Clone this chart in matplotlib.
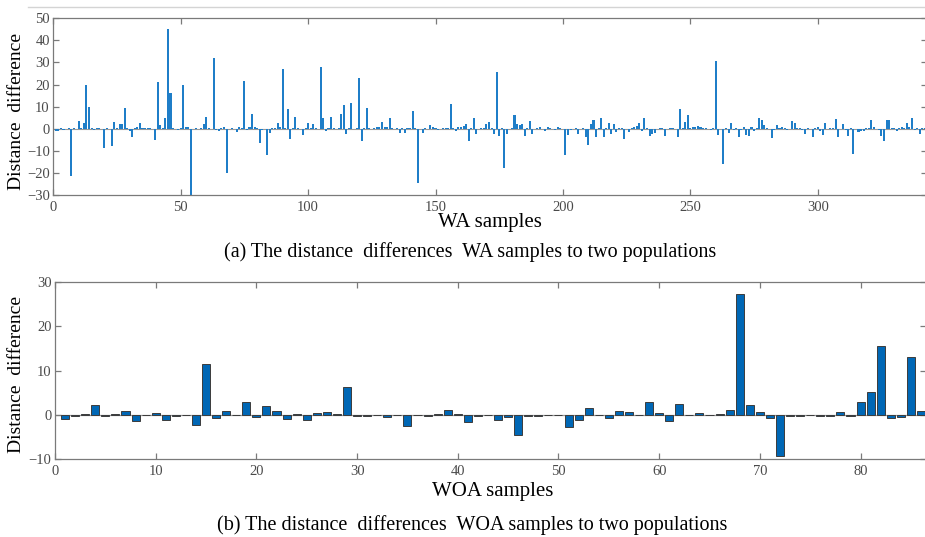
import matplotlib
matplotlib.use("Agg")
import matplotlib.pyplot as plt
from matplotlib.lines import Line2D
import numpy as np

plt.rcParams["font.family"] = ["Liberation Serif", "DejaVu Serif"]

# distance differences of the WA samples (sample 1..343)
wa_diff = [
    -1.2, -1.0, 0.2, -0.7, 0.1, 0.3, -21.3, 0.2, 0.1, 3.6,
    0.3, 2.5, 20.0, 9.8, 0.2, -0.5, 0.3, 0.3, 0.1, -8.6,
    0.2, 0.1, -7.7, 3.0, 0.2, 2.2, 2.2, 9.2, 0.3, -1.0,
    -3.8, 0.3, 1.0, 2.5, 0.2, 0.3, 0.3, 0.2, 0.1, -5.0,
    21.0, 1.5, 0.3, 4.8, 45.2, 16.0, 0.5, 0.1, -0.7, 0.2,
    19.8, 0.7, 0.7, -31.0, 0.1, 0.2, 0.1, 0.4, 2.0, 5.4,
    0.2, 0.1, 32.0, -0.5, -1.0, 0.2, 0.8, -20.0, 0.1, 0.2,
    0.1, -1.5, 0.8, 0.3, 21.8, -0.5, 0.8, 6.6, 0.8, 0.2,
    -6.5, -0.5, 0.1, -12.0, -2.0, 0.2, 0.3, 2.5, 1.0, 27.0,
    0.2, 9.0, -4.7, 0.2, 5.5, 0.5, 0.1, -3.0, 0.2, 2.5,
    0.3, 2.0, 0.2, 0.1, 28.0, 5.0, -1.0, 0.2, 5.5, 0.5,
    0.1, 0.2, 6.5, 10.8, -2.2, 0.2, 11.7, -0.3, 0.2, 23.0,
    -5.7, 0.3, 9.3, 0.5, 0.1, 0.3, 1.0, 1.0, 3.0, 1.0,
    1.0, 4.8, 0.5, 0.1, 0.2, -2.0, 0.2, -2.0, 0.5, 0.3,
    8.0, 0.2, -24.5, 0.1, -2.0, 0.2, 0.1, 1.5, 1.0, 0.2,
    -0.6, 0.1, 0.2, 0.3, 0.2, 11.0, 0.2, -1.0, 0.8, 1.0,
    1.2, 2.0, -5.7, 0.2, 4.8, -2.5, 0.1, 0.2, 0.5, 2.3,
    3.0, 0.2, -2.5, 25.9, -3.5, 0.2, -17.7, -2.5, 0.1, 0.2,
    6.2, 2.0, 1.5, 2.0, -3.5, 0.2, 3.3, -2.5, 0.1, 0.5,
    0.7, 0.1, -1.2, 1.0, 0.2, 0.1, -0.5, 0.7, 0.2, 0.1,
    -11.7, -3.0, -0.5, 0.1, 0.2, -2.5, -0.3, 0.5, -3.8, -7.2,
    2.0, 4.0, -3.8, 0.2, 4.8, -3.9, 0.2, 2.4, -2.5, 2.3,
    -1.5, 0.5, 0.2, -4.7, 0.1, -1.5, 0.2, 0.8, 1.2, 2.6,
    -1.0, 4.8, 0.2, -3.2, -2.5, -2.0, 0.1, 0.3, 0.2, -3.5,
    0.1, 0.2, 0.3, 0.1, -3.9, 8.9, 0.2, 3.0, 6.0, 0.2,
    1.0, 1.0, 1.2, 1.0, 0.5, 0.3, 0.1, -0.7, 0.5, 30.8,
    -3.0, 0.1, -16.0, 0.5, -2.0, 2.5, -0.5, 0.2, -3.8, -0.5,
    0.8, -3.0, -3.5, 1.0, -1.0, 0.5, 5.0, 4.0, 1.5, 0.3,
    0.1, -4.2, -0.5, 1.8, 0.5, 0.8, 0.3, -0.5, 0.1, 3.6,
    2.5, 0.2, 0.5, -0.5, -2.3, 0.3, 0.1, -3.8, 0.5, 0.7,
    -0.8, -3.0, 2.5, 0.1, 0.3, 0.2, 4.4, -3.8, 0.1, 2.0,
    -0.5, -3.5, 0.2, -11.5, 0.1, -1.5, -1.0, -1.0, 0.5, 0.3,
    3.8, 1.0, 0.1, -0.5, -3.5, -5.4, 4.0, 4.0, 0.2, 0.5,
    -1.0, 0.5, 0.8, 0.5, 2.5, 1.0, 4.7, -0.5, 0.5, -2.5,
    0.3, 0.2, 0.1,
]

# distance differences of the WOA samples (sample 1..86)
woa_diff = [
    -1.0, -0.2, 0.1, 2.3, -0.2, 0.3, 0.8, -1.3, 0.0, 0.5,
    -1.2, -0.2, -0.1, -2.3, 11.4, -0.7, 0.8, 0.0, 2.9, -0.5,
    2.0, 0.8, -0.9, 0.1, -1.1, 0.4, 0.7, 0.3, 6.3, -0.2,
    -0.2, 0.0, -0.4, 0.0, -2.5, 0.0, -0.3, 0.3, 1.2, 0.1,
    -1.7, -0.3, 0.0, -1.1, -0.4, -4.6, -0.3, -0.2, -0.1, -0.1,
    -2.8, -1.2, 1.6, 0.0, -0.6, 0.9, 0.6, -0.1, 2.8, 0.5,
    -1.4, 2.5, 0.0, 0.4, -0.1, 0.2, 1.0, 27.2, 2.3, 0.6,
    -0.6, -9.2, -0.3, -0.2, 0.0, -0.2, -0.2, 0.6, -0.3, 3.0,
    5.2, 15.6, -0.6, -0.4, 13.1, 0.8,
]

wa_x = np.arange(1, len(wa_diff) + 1)
woa_x = np.arange(1, len(woa_diff) + 1)

W, H = 925, 537
fig = plt.figure(figsize=(W / 100, H / 100), dpi=100)
fig.patch.set_facecolor("white")


def px_axes(left, top, right, bottom):
    return fig.add_axes([left / W, 1 - bottom / H, (right - left) / W, (bottom - top) / H])


def style(ax):
    for s in ax.spines.values():
        s.set_color("#7a7a7a")
        s.set_linewidth(0.9)
    ax.tick_params(direction="in", top=True, right=True, length=4, width=0.9,
                   color="#7a7a7a", labelcolor="#4a4a4a", labelsize=10.5)
    ax.tick_params(axis="y", pad=2.5)
    ax.tick_params(axis="x", pad=4)


# thin rule along the top of the page
fig.add_artist(Line2D([28 / W, 1.0], [1 - 7 / H, 1 - 7 / H], color="#d4d4d4", lw=1.0))

# (a) WA samples
ax1 = px_axes(53.3, 18.3, 927.3, 195)
ax1.axhline(0, color="#9a9a9a", lw=0.8, zorder=1)
ax1.bar(wa_x, wa_diff, width=0.8, color="#1f7ec8", linewidth=0, zorder=2)
ax1.set_xlim(0, 343)
ax1.set_ylim(-30, 50)
ax1.set_xticks(np.arange(0, 301, 50))
ax1.set_yticks(np.arange(-30, 51, 10))
style(ax1)
ax1.set_xlabel("WA samples", fontsize=15)
ax1.xaxis.label.set_va("center")
ax1.xaxis.set_label_coords(0.5, -0.153)
ax1.set_ylabel("Distance  difference", fontsize=14)
ax1.yaxis.label.set_va("center")
ax1.yaxis.set_label_coords(-0.042, 0.47)
fig.text(470 / W, 1 - 252 / H, "(a) The distance  differences  WA samples to two populations",
         ha="center", va="center", fontsize=14.5)

# (b) WOA samples
ax2 = px_axes(55, 281.7, 926, 459.3)
ax2.axhline(0, color="#9a9a9a", lw=0.9, zorder=1)
ax2.bar(woa_x, woa_diff, width=0.8, color="#0067b5", edgecolor="#3c3c3c",
        linewidth=0.7, zorder=2)
ax2.set_xlim(0, 86.5)
ax2.set_ylim(-10, 30)
ax2.set_xticks(np.arange(0, 81, 10))
ax2.set_yticks(np.arange(-10, 31, 10))
style(ax2)
ax2.set_xlabel("WOA samples", fontsize=15)
ax2.xaxis.label.set_va("center")
ax2.xaxis.set_label_coords(0.502, -0.184)
ax2.set_ylabel("Distance  difference", fontsize=14)
ax2.yaxis.label.set_va("center")
ax2.yaxis.set_label_coords(-0.0445, 0.48)
fig.text(472 / W, 1 - 525 / H, "(b) The distance  differences  WOA samples to two populations",
         ha="center", va="center", fontsize=14.5)

fig.savefig("out.png", dpi=100)
